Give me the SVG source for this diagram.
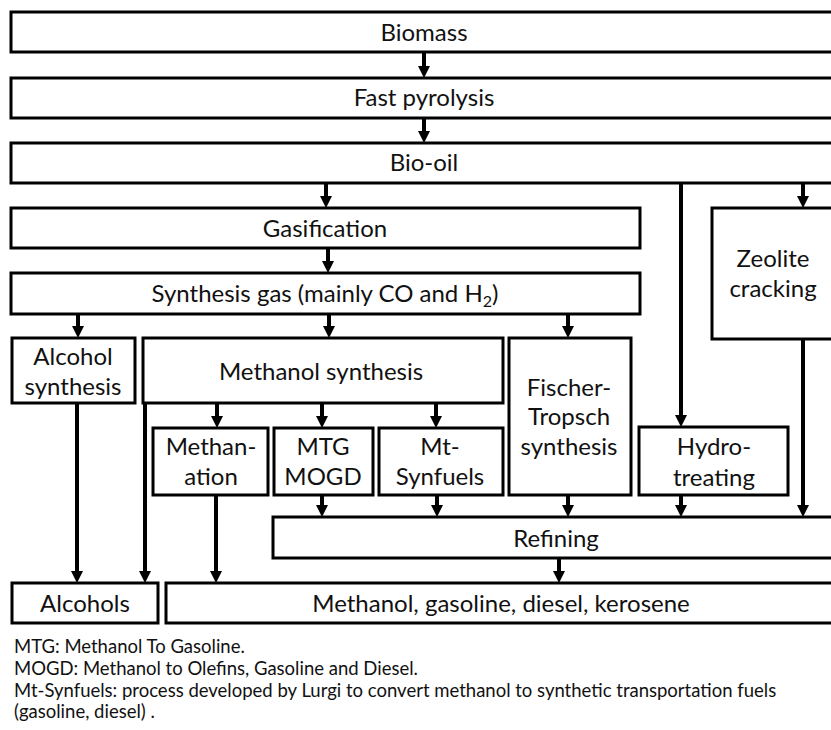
<svg xmlns="http://www.w3.org/2000/svg" width="831" height="730" viewBox="0 0 831 730">
<style>
  .box { fill: #ffffff; stroke: #000000; stroke-width: 3; }
  .lbl { font-family: Lato, "Liberation Sans", sans-serif; font-size: 24px; fill: #111111; text-anchor: middle; }
  .note { font-family: Lato, "Liberation Sans", sans-serif; font-size: 18.5px; fill: #111111; }
  .conn { stroke: #000000; stroke-width: 4; fill: none; marker-end: url(#ah); }
</style>
<defs>
  <marker id="ah" viewBox="0 0 12 12" refX="2" refY="6" markerWidth="12" markerHeight="12" markerUnits="userSpaceOnUse" orient="auto">
    <path d="M0,0 L12,6 L0,12 z" fill="#000000"/>
  </marker>
</defs>
<rect width="831" height="730" fill="#ffffff"/>

<g id="connectors">
  <line class="conn" x1="424" y1="52" x2="424" y2="68"/>
  <line class="conn" x1="424" y1="118" x2="424" y2="133"/>
  <line class="conn" x1="326" y1="183" x2="326" y2="198"/>
  <line class="conn" x1="681" y1="183" x2="681" y2="417"/>
  <line class="conn" x1="803" y1="183" x2="803" y2="198"/>
  <line class="conn" x1="328" y1="248" x2="328" y2="263"/>
  <line class="conn" x1="78" y1="314" x2="78" y2="328"/>
  <line class="conn" x1="329" y1="314" x2="329" y2="328"/>
  <line class="conn" x1="568" y1="314" x2="568" y2="328"/>
  <line class="conn" x1="217" y1="403" x2="217" y2="418"/>
  <line class="conn" x1="322" y1="403" x2="322" y2="418"/>
  <line class="conn" x1="436" y1="403" x2="436" y2="418"/>
  <line class="conn" x1="322" y1="495" x2="322" y2="507"/>
  <line class="conn" x1="437" y1="495" x2="437" y2="507"/>
  <line class="conn" x1="568" y1="495" x2="568" y2="507"/>
  <line class="conn" x1="681" y1="495" x2="681" y2="507"/>
  <line class="conn" x1="803" y1="339" x2="803" y2="507"/>
  <line class="conn" x1="559" y1="558" x2="559" y2="573"/>
  <line class="conn" x1="77" y1="403" x2="77" y2="573"/>
  <line class="conn" x1="145" y1="403" x2="145" y2="573"/>
  <line class="conn" x1="216" y1="495" x2="216" y2="573"/>
</g>

<g id="biomass">
  <rect class="box" x="11" y="12" width="830" height="40"/>
  <text class="lbl" x="424" y="41">Biomass</text>
</g>
<g id="fast-pyrolysis">
  <rect class="box" x="11" y="78" width="830" height="40"/>
  <text class="lbl" x="424" y="106">Fast pyrolysis</text>
</g>
<g id="bio-oil">
  <rect class="box" x="11" y="143" width="830" height="40"/>
  <text class="lbl" x="424" y="171">Bio-oil</text>
</g>
<g id="gasification">
  <rect class="box" x="11" y="208" width="629" height="40"/>
  <text class="lbl" x="325" y="237">Gasification</text>
</g>
<g id="synthesis-gas">
  <rect class="box" x="11" y="273" width="629" height="41"/>
  <text class="lbl" x="325" y="302">Synthesis gas (mainly CO and H<tspan font-size="16" dy="5">2</tspan><tspan dy="-5">)</tspan></text>
</g>
<g id="zeolite-cracking">
  <rect class="box" x="712" y="208" width="130" height="131"/>
  <text class="lbl" x="773" y="267">Zeolite</text>
  <text class="lbl" x="773" y="297">cracking</text>
</g>
<g id="alcohol-synthesis">
  <rect class="box" x="12" y="338" width="123" height="65"/>
  <text class="lbl" x="73" y="365">Alcohol</text>
  <text class="lbl" x="73" y="395">synthesis</text>
</g>
<g id="methanol-synthesis">
  <rect class="box" x="143" y="338" width="360" height="65"/>
  <text class="lbl" x="321" y="380">Methanol synthesis</text>
</g>
<g id="fischer-tropsch">
  <rect class="box" x="509" y="338" width="122" height="157"/>
  <text class="lbl" x="569" y="396">Fischer-</text>
  <text class="lbl" x="569" y="425">Tropsch</text>
  <text class="lbl" x="569" y="455">synthesis</text>
</g>
<g id="methanation">
  <rect class="box" x="153" y="428" width="115" height="67"/>
  <text class="lbl" x="211" y="455">Methan-</text>
  <text class="lbl" x="211" y="485">ation</text>
</g>
<g id="mtg-mogd">
  <rect class="box" x="274" y="428" width="99" height="67"/>
  <text class="lbl" x="323" y="455">MTG</text>
  <text class="lbl" x="323" y="485">MOGD</text>
</g>
<g id="mt-synfuels">
  <rect class="box" x="379" y="428" width="124" height="67"/>
  <text class="lbl" x="440" y="455">Mt-</text>
  <text class="lbl" x="440" y="485">Synfuels</text>
</g>
<g id="hydrotreating">
  <rect class="box" x="639" y="427" width="149" height="68"/>
  <text class="lbl" x="714" y="455">Hydro-</text>
  <text class="lbl" x="714" y="486">treating</text>
</g>
<g id="refining">
  <rect class="box" x="273" y="517" width="568" height="41"/>
  <text class="lbl" x="556" y="547">Refining</text>
</g>
<g id="alcohols">
  <rect class="box" x="12" y="583" width="146" height="40"/>
  <text class="lbl" x="85" y="612">Alcohols</text>
</g>
<g id="fuels">
  <rect class="box" x="166" y="583" width="675" height="40"/>
  <text class="lbl" x="501" y="612">Methanol, gasoline, diesel, kerosene</text>
</g>

<g id="notes">
  <text class="note" x="14" y="653">MTG: Methanol To Gasoline.</text>
  <text class="note" x="14" y="675">MOGD: Methanol to Olefins, Gasoline and Diesel.</text>
  <text class="note" x="14" y="697">Mt-Synfuels: process developed by Lurgi to convert methanol to synthetic transportation fuels</text>
  <text class="note" x="14" y="718">(gasoline, diesel) .</text>
</g>
</svg>
